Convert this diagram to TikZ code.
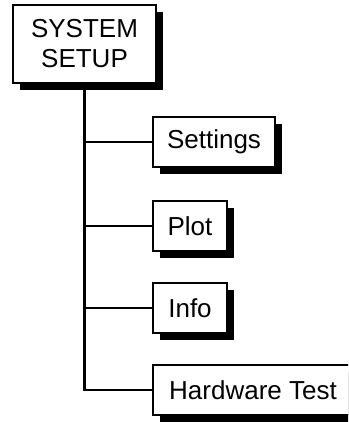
\documentclass[tikz,border=0pt]{standalone}
\usepackage{fontspec}
\setmainfont{Liberation Sans}
\usetikzlibrary{positioning,shadows}

\begin{document}
\begin{tikzpicture}[
    x=1pt, y=-1pt,
    menubox/.style={rectangle, draw, line width=2.4pt, fill=white, minimum height=50pt, inner sep=0pt, align=center,
        font=\fontsize{26}{30}\selectfont,
        drop shadow={shadow xshift=7pt, shadow yshift=-7pt, opacity=1, fill=black}},
    rootbox/.style={menubox, minimum width=143pt, minimum height=78pt},
    branch/.style={line width=2.4pt}
]
    \clip (0,0) rectangle (348,422);

    % Root
    \node[rootbox] (sys) at (84.5,44) {SYSTEM\\SETUP};

    % Submenus
    \node[menubox, minimum width=122pt] (settings) at (214,142) {Settings};
    \node[menubox, minimum width=74pt] (plot) at (190,226) {Plot};
    \node[menubox, minimum width=74pt] (info) at (190,308) {Info};
    \node[menubox, minimum width=200pt] (hwtest) at (253,390) {Hardware Test};

    % Tree lines
    \draw[branch] (sys.south) |- (hwtest.west);
    \draw[branch] (sys.south |- settings.west) -- (settings.west);
    \draw[branch] (sys.south |- plot.west) -- (plot.west);
    \draw[branch] (sys.south |- info.west) -- (info.west);

\end{tikzpicture}
\end{document}
